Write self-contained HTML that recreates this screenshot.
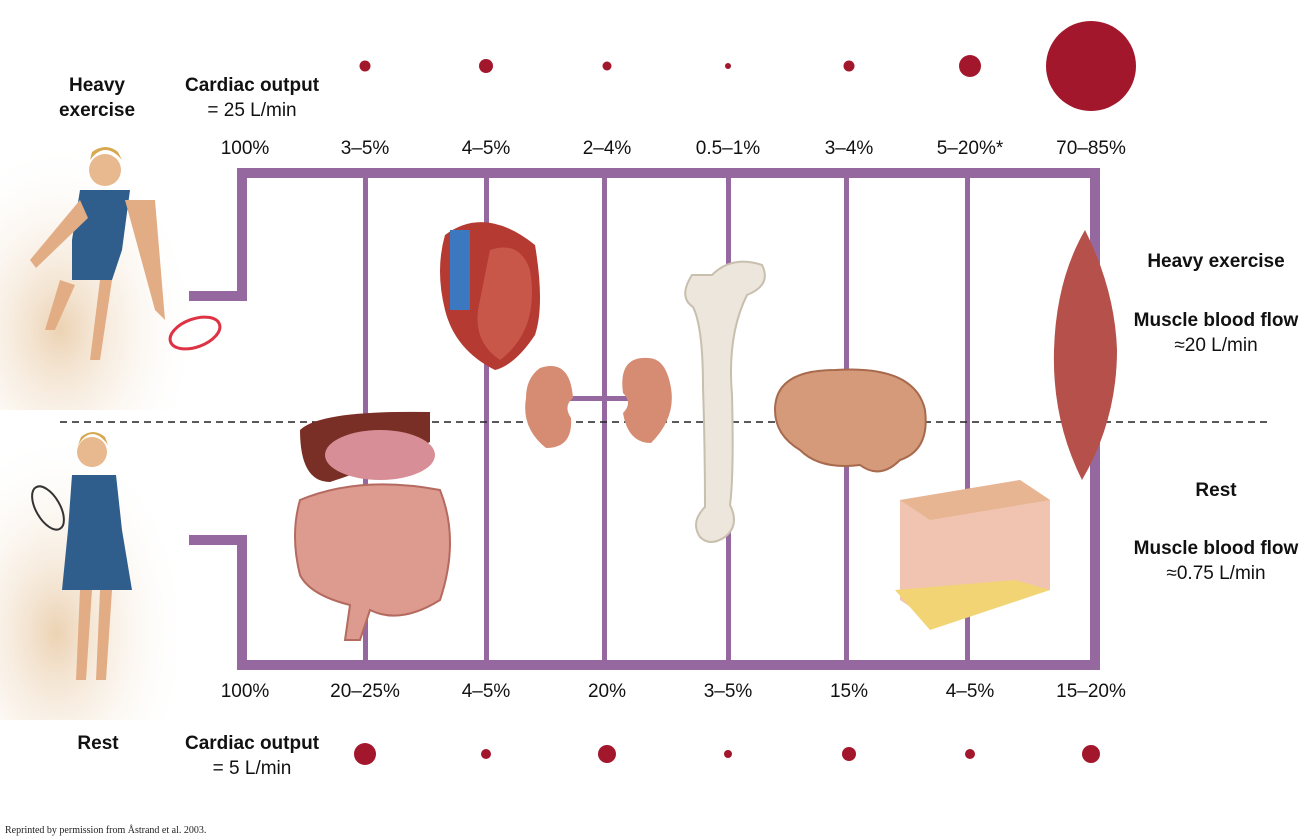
<!DOCTYPE html>
<html><head><meta charset="utf-8"><style>
body{margin:0;background:#fff;width:1306px;height:839px;overflow:hidden;font-family:"Liberation Sans",sans-serif}
svg{display:block}
</style></head><body>
<svg width="1306" height="839" viewBox="0 0 1306 839" font-family="Liberation Sans, sans-serif">
<defs>
<radialGradient id="floor" cx="0.3" cy="0.7" r="0.7"><stop offset="0" stop-color="#ecd2b3"/><stop offset="1" stop-color="#fff" stop-opacity="0"/></radialGradient>
</defs>
<rect x="0" y="140" width="200" height="270" fill="url(#floor)"/>
<rect x="0" y="430" width="190" height="290" fill="url(#floor)"/>
<g>
<circle cx="105" cy="170" r="16" fill="#e8b88e"/><path d="M90 160 q15 -20 32 0 l-4 -8 q-12 -10 -26 0z" fill="#d8a850"/>
<path d="M80 190 h50 l-8 60 l-10 30 h-40 l0 -40z" fill="#2f5e8c"/>
<path d="M80 200 l-50 60 l6 8 l52 -50z" fill="#e2ad85"/>
<path d="M125 200 l30 110 l10 10 l-10 -120z" fill="#e2ad85"/>
<path d="M60 280 l-15 50 h10 l20 -45z M100 280 l-10 80 h10 l12 -80z" fill="#e2ad85"/>
<ellipse cx="195" cy="333" rx="26" ry="14" fill="none" stroke="#d34" stroke-width="3" transform="rotate(-20 195 333)"/>
<circle cx="92" cy="452" r="15" fill="#e8b88e"/><path d="M78 445 q14 -22 30 0 l-3 -8 q-12 -10 -24 0z" fill="#d8a850"/>
<path d="M72 475 h44 l6 55 l10 60 h-70 l6 -60z" fill="#2f5e8c"/>
<path d="M80 590 l-4 90 h10 l6 -90z M100 590 l-4 90 h10 l6 -90z" fill="#e2ad85"/>
<ellipse cx="48" cy="508" rx="12" ry="24" fill="none" stroke="#333" stroke-width="2" transform="rotate(-30 48 508)"/>
</g>
<g fill="#9569a0">
<rect x="237" y="168" width="863" height="10"/>
<rect x="237" y="168" width="10" height="133"/>
<rect x="189" y="291" width="58" height="10"/>
<rect x="237" y="535" width="10" height="135"/>
<rect x="189" y="535" width="58" height="10"/>
<rect x="237" y="660" width="863" height="10"/>
<rect x="1090" y="168" width="10" height="502"/>
<rect x="363" y="168" width="5" height="502"/>
<rect x="484" y="168" width="5" height="502"/>
<rect x="602" y="168" width="5" height="502"/>
<rect x="726" y="168" width="5" height="502"/>
<rect x="844" y="168" width="5" height="502"/>
<rect x="965" y="168" width="5" height="502"/>
<rect x="565" y="396" width="75" height="5"/>
</g>
<line x1="60" y1="422" x2="1270" y2="422" stroke="#222" stroke-width="1.5" stroke-dasharray="7,5"/>
<g>
<path d="M300 430 q20 -20 130 -18 l0 30 q-40 20 -100 40 q-30 0 -30 -52z" fill="#7a2f26"/>
<ellipse cx="380" cy="455" rx="55" ry="25" fill="#d88e96"/>
<path d="M300 500 q60 -25 140 -10 q20 50 0 110 q-40 25 -70 10 l-10 30 h-15 l5 -35 q-40 -10 -50 -30 q-10 -40 0 -75z" fill="#dd9a8e" stroke="#b56a60" stroke-width="2"/>
<path d="M445 235 q40 -30 90 10 q10 60 0 90 q-20 30 -40 35 q-40 -20 -50 -60 q-10 -40 0 -75z" fill="#b43a32"/>
<path d="M450 230 h20 v80 h-20z" fill="#3b78c0"/>
<path d="M490 250 q30 -10 40 20 q10 60 -30 90 q-30 -20 -20 -60z" fill="#c8574a"/>
<path d="M540 368 q30 -10 33 30 q-10 8 -2 20 q2 30 -25 30 q-25 -20 -20 -50 q0 -20 14 -30z" fill="#d58c72"/>
<path d="M648 358 q-30 -2 -25 35 q10 10 0 20 q5 30 28 30 q25 -25 20 -55 q-5 -30 -23 -30z" fill="#d58c72"/>
<path d="M712 275 q20 -20 50 -10 q10 20 -15 30 q-20 40 -15 100 q2 80 -2 110 q10 20 -5 32 q-15 10 -25 0 q-10 -15 5 -30 q0 -60 -2 -120 q0 -60 -10 -80 q-15 -10 -1 -32z" fill="#ece6dc" stroke="#c8bfae" stroke-width="2"/>
<path d="M775 410 q0 -40 60 -40 q80 -5 90 40 q5 40 -25 50 q-20 20 -40 5 q-40 5 -60 -15 q-25 -15 -25 -40z" fill="#d49a7a" stroke="#a86a4d" stroke-width="2"/>
<path d="M900 500 l120 -20 l30 20 v90 l-120 30 l-30 -20z" fill="#f0c4b0"/>
<path d="M900 500 l120 -20 l30 20 l-120 20z" fill="#e8b592"/>
<path d="M895 590 l120 -10 l35 10 l-120 40z" fill="#f2d475"/>
<path d="M1085 230 q30 60 32 120 q0 70 -35 130 q-30 -60 -28 -130 q2 -70 31 -120z" fill="#b5504a"/>
</g>
<g fill="#a3172c">
<circle cx="365" cy="66" r="5.5"/><circle cx="486" cy="66" r="7"/><circle cx="607" cy="66" r="4.5"/><circle cx="728" cy="66" r="3"/><circle cx="849" cy="66" r="5.5"/><circle cx="970" cy="66" r="11"/><circle cx="1091" cy="66" r="45"/>
<circle cx="365" cy="754" r="11"/><circle cx="486" cy="754" r="5"/><circle cx="607" cy="754" r="9"/><circle cx="728" cy="754" r="4"/><circle cx="849" cy="754" r="7"/><circle cx="970" cy="754" r="5"/><circle cx="1091" cy="754" r="9"/>
</g>
<g font-size="19" fill="#111" text-anchor="middle">
<text x="97" y="91" font-weight="bold">Heavy</text><text x="97" y="116" font-weight="bold">exercise</text>
<text x="252" y="91" font-weight="bold">Cardiac output</text><text x="252" y="116">= 25 L/min</text>
<text x="245" y="154">100%</text><text x="365" y="154">3–5%</text><text x="486" y="154">4–5%</text><text x="607" y="154">2–4%</text><text x="728" y="154">0.5–1%</text><text x="849" y="154">3–4%</text><text x="970" y="154">5–20%*</text><text x="1091" y="154">70–85%</text>
<text x="245" y="697">100%</text><text x="365" y="697">20–25%</text><text x="486" y="697">4–5%</text><text x="607" y="697">20%</text><text x="728" y="697">3–5%</text><text x="849" y="697">15%</text><text x="970" y="697">4–5%</text><text x="1091" y="697">15–20%</text>
<text x="98" y="749" font-weight="bold">Rest</text>
<text x="252" y="749" font-weight="bold">Cardiac output</text><text x="252" y="774">= 5 L/min</text>
<text x="1216" y="267" font-weight="bold">Heavy exercise</text>
<text x="1216" y="326" font-weight="bold">Muscle blood flow</text><text x="1216" y="351">≈20 L/min</text>
<text x="1216" y="496" font-weight="bold">Rest</text>
<text x="1216" y="554" font-weight="bold">Muscle blood flow</text><text x="1216" y="579">≈0.75 L/min</text>
</g>
<text x="5" y="833" font-size="10" font-family="Liberation Serif, serif" fill="#222">Reprinted by permission from Åstrand et al. 2003.</text>
</svg>
</body></html>
